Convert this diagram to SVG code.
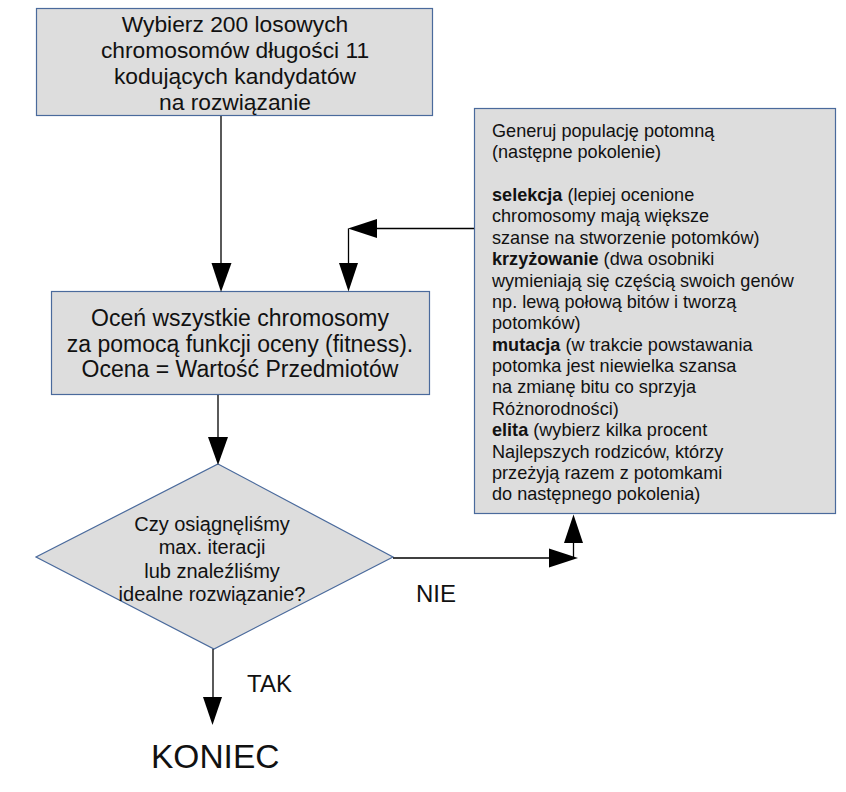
<svg xmlns="http://www.w3.org/2000/svg" width="846" height="792" viewBox="0 0 846 792">
<defs>
<style>
.box{fill:#dddddd;stroke:#4a6a9c;stroke-width:1.2}
.t{font-family:"Liberation Sans",Arial,sans-serif;fill:#111111}
.big{font-size:22.8px;text-anchor:middle}
.mid{font-size:23px;text-anchor:middle}
.dia{font-size:20px;text-anchor:middle}
.sm{font-size:18.1px}
.lbl{font-size:24px}
.end{font-size:33.5px}
.ln{fill:none;stroke:#000000;stroke-width:1.3}
.ah{fill:#000000}
</style>
</defs>
<rect width="846" height="792" fill="#ffffff"/>
<g id="start">
<rect class="box" x="36.5" y="8.5" width="396" height="107"/>
<text class="t big"><tspan x="235" y="32">Wybierz 200 losowych</tspan><tspan x="235" y="58">chromosomów długości 11</tspan><tspan x="235" y="84">kodujących kandydatów</tspan><tspan x="235" y="110">na rozwiązanie</tspan></text>
</g>
<g id="evaluate">
<rect class="box" x="51.5" y="291.5" width="378" height="103"/>
<text class="t mid"><tspan x="240" y="326">Oceń wszystkie chromosomy</tspan><tspan x="240" y="352">za pomocą funkcji oceny (fitness).</tspan><tspan x="240" y="377">Ocena = Wartość Przedmiotów</tspan></text>
</g>
<g id="decision">
<polygon class="box" points="218,464 393,557 214,649 36,557"/>
<text class="t dia"><tspan x="212" y="531">Czy osiągnęliśmy</tspan><tspan x="212" y="554">max. iteracji</tspan><tspan x="212" y="578">lub znaleźliśmy</tspan><tspan x="212" y="601">idealne rozwiązanie?</tspan></text>
</g>
<g id="generate">
<rect class="box" x="474.5" y="108.5" width="361" height="405"/>
<text class="t sm"><tspan x="492" y="137">Generuj populację potomną</tspan><tspan x="492" y="158.4">(następne pokolenie)</tspan><tspan x="492" y="201"><tspan font-weight="bold">selekcja</tspan> (lepiej ocenione</tspan><tspan x="492" y="222.4">chromosomy mają większe</tspan><tspan x="492" y="243.8">szanse na stworzenie potomków)</tspan><tspan x="492" y="265.1"><tspan font-weight="bold">krzyżowanie</tspan> (dwa osobniki</tspan><tspan x="492" y="286.5">wymieniają się częścią swoich genów</tspan><tspan x="492" y="307.9">np. lewą połową bitów i tworzą</tspan><tspan x="492" y="329.3">potomków)</tspan><tspan x="492" y="350.6"><tspan font-weight="bold">mutacja</tspan> (w trakcie powstawania</tspan><tspan x="492" y="372">potomka jest niewielka szansa</tspan><tspan x="492" y="393.4">na zmianę bitu co sprzyja</tspan><tspan x="492" y="414.8">Różnorodności)</tspan><tspan x="492" y="436.1"><tspan font-weight="bold">elita</tspan> (wybierz kilka procent</tspan><tspan x="492" y="457.5">Najlepszych rodziców, którzy</tspan><tspan x="492" y="478.9">przeżyją razem z potomkami</tspan><tspan x="492" y="500.3">do następnego pokolenia)</tspan></text>
</g>
<g id="end">
<text class="t end" x="151" y="768">KONIEC</text>
</g>
<g id="connectors">
<line class="ln" x1="221" y1="116" x2="221" y2="265"/>
<polygon class="ah" points="211.5,263 231.5,263 221,292"/>
<line class="ln" x1="218" y1="395" x2="218" y2="438"/>
<polygon class="ah" points="208,437 228,437 218,465"/>
<line class="ln" x1="393" y1="558" x2="552" y2="558"/>
<polygon class="ah" points="549,548.5 549,567.5 578,558"/>
<line class="ln" x1="573.5" y1="558" x2="573.5" y2="540"/>
<polygon class="ah" points="564,543 583,543 573.5,514.5"/>
<line class="ln" x1="474" y1="228.5" x2="375" y2="228.5"/>
<polygon class="ah" points="377,219 377,238 348,228.5"/>
<line class="ln" x1="348.5" y1="228.5" x2="348.5" y2="265"/>
<polygon class="ah" points="339,263 358,263 348.5,291.5"/>
<line class="ln" x1="213" y1="649" x2="213" y2="700"/>
<polygon class="ah" points="203,697 222,697 212.5,725"/>
<text class="t lbl" x="247" y="692">TAK</text>
<text class="t lbl" x="416" y="602">NIE</text>
</g>
</svg>
